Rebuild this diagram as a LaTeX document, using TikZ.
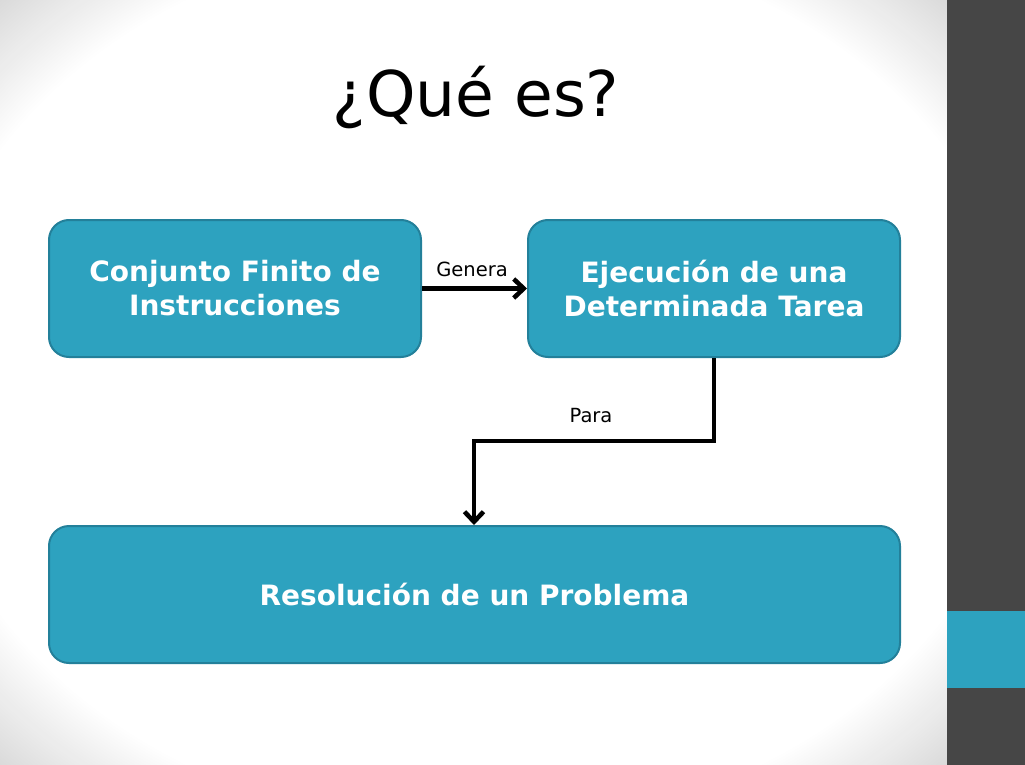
\documentclass[tikz,border=0pt]{standalone}
\usepackage{fontspec}
\setmainfont{DejaVu Sans}
\usetikzlibrary{arrows.meta}
\definecolor{boxfill}{HTML}{2DA2BF}
\definecolor{boxline}{HTML}{23809A}
\definecolor{bardark}{HTML}{464646}
\definecolor{bgcorner}{HTML}{D8D8D8}
\begin{document}
\begin{tikzpicture}[x=1pt,y=-1pt,
  box/.style={draw=boxline,line width=2pt,fill=boxfill,rounded corners=20pt,
    inner sep=0pt,text=white,align=center,
    font=\bfseries\fontsize{28}{34}\selectfont},
  arr/.style={line width=4.5pt,draw=black,-{Straight Barb[length=10pt,width=19pt]}},
  arrshadow/.style={line width=4.5pt,draw=black,opacity=0.18,-{Straight Barb[length=10pt,width=19pt]}},
  lbl/.style={font=\fontsize{19.5}{23}\selectfont,anchor=base,inner sep=0pt},
  ttl/.style={font=\fontsize{63}{70}\selectfont,anchor=base,inner sep=0pt}]
\useasboundingbox (0,0) rectangle (1025,765);
\begin{scope}
\clip (0,0) rectangle (947,765);
\fill[bgcorner] (0,0) rectangle (947,765);
\foreach \i in {0,...,40}{
  \pgfmathsetmacro{\rr}{1.43-\i*0.0065}
  \pgfmathsetmacro{\pc}{100-\i*2.5}
  \fill[bgcorner!\pc!white] (473.5,382.5) ellipse [x radius=473.5*\rr, y radius=382.5*\rr];
}
\end{scope}
\fill[bardark] (947,0) rectangle (1025,765);
\fill[boxfill] (947,611) rectangle (1025,688);

\node[ttl] (title) at (476,117) {¿Qué es?};

\node[box,minimum width=372pt,minimum height=137pt] (b1) at (235,288.5) {Conjunto Finito de\\Instrucciones};
\node[box,minimum width=372pt,minimum height=137pt] (b2) at (714,288.5) {Ejecución de una\\Determinada Tarea};
\node[box,minimum width=851pt,minimum height=137pt] (b3) at (474.5,594.5) {Resolución de un Problema};

\coordinate (p) at (474,441);

\begin{scope}[shift={(1.5pt,-1.5pt)}]
\draw[arrshadow] (b1.east) -- (b2.west);
\draw[arrshadow,line join=miter] (b2.south) |- (p) -- (p |- b3.north);
\end{scope}
\draw[arr] (b1.east) -- (b2.west);
\draw[arr,line join=miter] (b2.south) |- (p) -- (p |- b3.north);

\node[lbl] (genera) at (472,276) {Genera};
\node[lbl] (para) at (591,422) {Para};
\end{tikzpicture}
\end{document}
